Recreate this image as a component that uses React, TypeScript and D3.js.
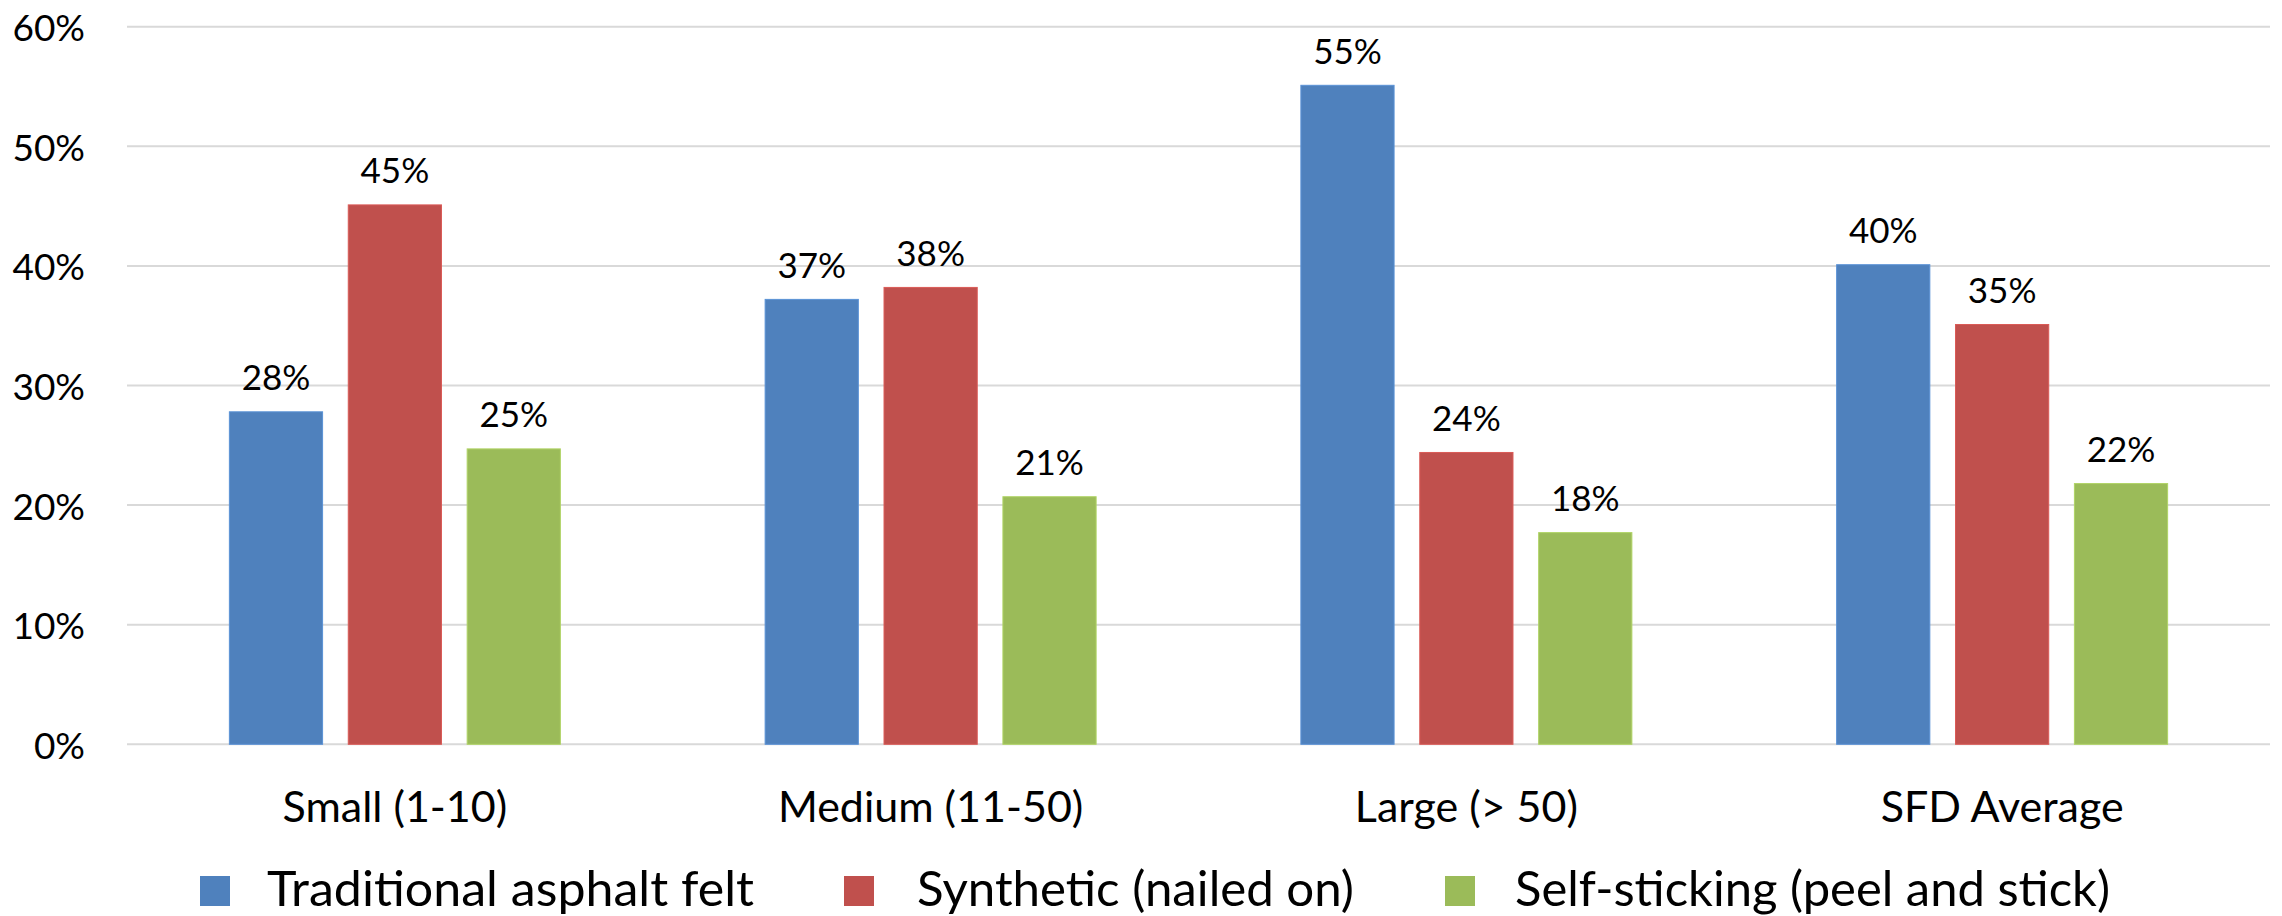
import React from "react";
import * as d3 from "d3";

const categories = ["Small (1-10)", "Medium (11-50)", "Large (> 50)", "SFD Average"];
const seriesNames = [
  "Traditional asphalt felt",
  "Synthetic (nailed on)",
  "Self-sticking (peel and stick)",
];
const seriesColors = ["#4F81BD", "#C0504D", "#9BBB59"];
// values per series, in category order
const traditional = [0.278, 0.372, 0.551, 0.401];
const synthetic = [0.451, 0.382, 0.244, 0.351];
const selfSticking = [0.247, 0.207, 0.177, 0.218];
const yTicks = [0, 0.1, 0.2, 0.3, 0.4, 0.5, 0.6];

const W = 2282;
const H = 916;
const FONT = "Lato, 'Open Sans', sans-serif";

const App = () => {
  const series = [traditional, synthetic, selfSticking];

  const y = d3.scaleLinear().domain([0, 0.6]).range([744.3, 26.7]);
  const x0 = d3.scaleBand<string>().domain(categories).range([127, 2270]).padding(0);
  const groupW = 331;
  const bw0 = x0.bandwidth();
  const x1 = d3
    .scaleBand<string>()
    .domain(seriesNames)
    .range([(bw0 - groupW) / 2, (bw0 + groupW) / 2])
    .paddingInner(0.216)
    .paddingOuter(0);

  const fmt = d3.format(".0%");

  // legend layout
  const legendSquareX = [200, 844, 1445];
  const legendTextX = [267, 917, 1515];
  const legendTextW = [487, 437, 595];

  return (
    <svg
      width={W}
      height={H}
      style={{ position: "absolute", left: 0, top: 0, background: "#fff" }}
      fontFamily={FONT}
    >
      <rect width={W} height={H} fill="#fff" />
      {/* gridlines */}
      {yTicks.map((t) => (
        <line
          key={t}
          x1={127}
          x2={2270}
          y1={y(t)}
          y2={y(t)}
          stroke="#d9d9d9"
          strokeWidth={2}
        />
      ))}
      {/* y tick labels */}
      {yTicks.map((t) => (
        <text
          key={"l" + t}
          x={85}
          y={y(t)}
          textAnchor="end"
          dominantBaseline="central"
          fontSize={37}
          fill="#000"
        >
          {fmt(t)}
        </text>
      ))}
      {/* bars */}
      {categories.map((c, ci) => (
        <g key={c} transform={`translate(${x0(c)},0)`}>
          {seriesNames.map((s, si) => {
            const v = series[si][ci];
            const bx = x1(s) as number;
            return (
              <g key={s}>
                <rect
                  x={bx}
                  y={y(v)}
                  width={x1.bandwidth()}
                  height={y(0) - y(v)}
                  fill={seriesColors[si]}
                  stroke={d3.color(seriesColors[si])!.brighter(0.35).toString()}
                  strokeWidth={1}
                />
                <text
                  x={bx + x1.bandwidth() / 2}
                  y={y(v) - 21.7}
                  textAnchor="middle"
                  fontSize={35}
                  fill="#000"
                >
                  {fmt(Math.round(v * 100) / 100)}
                </text>
              </g>
            );
          })}
        </g>
      ))}
      {/* category labels */}
      {categories.map((c) => (
        <text
          key={"c" + c}
          x={(x0(c) as number) + bw0 / 2}
          y={822}
          textAnchor="middle"
          fontSize={43}
          fill="#000"
        >
          {c}
        </text>
      ))}
      {/* legend */}
      {seriesNames.map((s, i) => (
        <g key={"lg" + s}>
          <rect x={legendSquareX[i]} y={876} width={30} height={30} fill={seriesColors[i]} />
          <text
            x={legendTextX[i]}
            y={906}
            fontSize={48}
            fill="#000"
            textLength={legendTextW[i]}
            lengthAdjust="spacingAndGlyphs"
          >
            {s}
          </text>
        </g>
      ))}
    </svg>
  );
};

export default App;
